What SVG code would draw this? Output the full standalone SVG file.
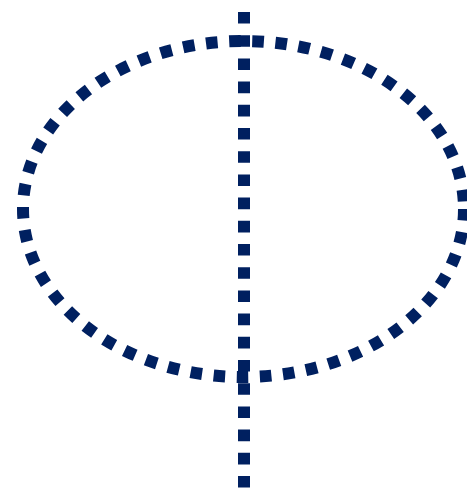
<svg xmlns="http://www.w3.org/2000/svg" width="467" height="491" viewBox="0 0 467 491">
<style>
.d{fill:none;stroke:#002060;stroke-width:12;stroke-dasharray:11.6 11.6}
</style>
<rect width="467" height="491" fill="#ffffff"/>
<g id="ellipse"><ellipse class="d" cx="243.5" cy="209" rx="220.5" ry="168"/></g>
<g id="axis"><line class="d" x1="244" y1="12" x2="244" y2="490"/></g>
</svg>
